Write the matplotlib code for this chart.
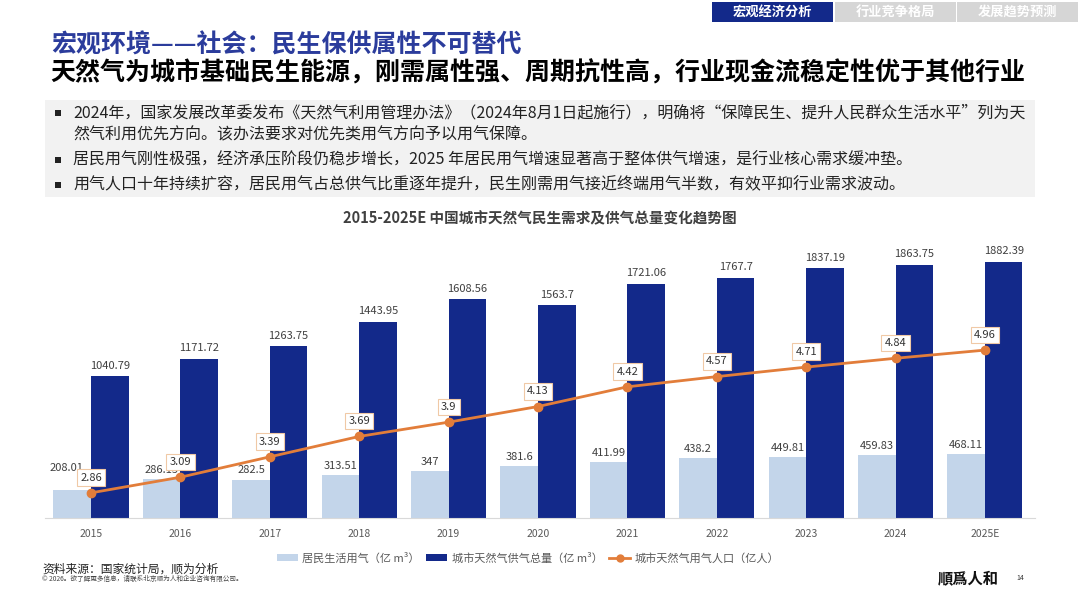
import matplotlib
matplotlib.use("Agg")
import matplotlib.pyplot as plt
from matplotlib.patches import Rectangle
from matplotlib.lines import Line2D
import numpy as np

plt.rcParams["font.family"] = ["Noto Sans CJK SC", "DejaVu Sans"]

# data
years = ["2015", "2016", "2017", "2018", "2019", "2020", "2021", "2022", "2023", "2024", "2025E"]
residential_gas = [208.01, 286.15, 282.5, 313.51, 347, 381.6, 411.99, 438.2, 449.81, 459.83, 468.11]
total_supply = [1040.79, 1171.72, 1263.75, 1443.95, 1608.56, 1563.7, 1721.06, 1767.7, 1837.19, 1863.75, 1882.39]
gas_population = [2.86, 3.09, 3.39, 3.69, 3.9, 4.13, 4.42, 4.57, 4.71, 4.84, 4.96]

tabs = ["宏观经济分析", "行业竞争格局", "发展趋势预测"]
title_1 = "宏观环境——社会：民生保供属性不可替代"
title_2 = "天然气为城市基础民生能源，刚需属性强、周期抗性高，行业现金流稳定性优于其他行业"
bullets = [
    "2024年，国家发展改革委发布《天然气利用管理办法》（2024年8月1日起施行），明确将“保障民生、提升人民群众生活水平”列为天\n然气利用优先方向。该办法要求对优先类用气方向予以用气保障。",
    "居民用气刚性极强，经济承压阶段仍稳步增长，2025 年居民用气增速显著高于整体供气增速，是行业核心需求缓冲垫。",
    "用气人口十年持续扩容，居民用气占总供气比重逐年提升，民生刚需用气接近终端用气半数，有效平抑行业需求波动。",
]
chart_title = "2015-2025E 中国城市天然气民生需求及供气总量变化趋势图"
legend_labels = ["居民生活用气（亿 m³）", "城市天然气供气总量（亿 m³）", "城市天然气用气人口（亿人）"]

NAVY = "#13298A"
LIGHT = "#C3D5EA"
ORANGE = "#E27D3A"
W, H = 1080, 608


def fx(px):
    return px / W


def fy(py):
    return 1 - py / H


fig = plt.figure(figsize=(10.8, 6.08), dpi=100)

# header tabs
tab_x = [712, 835, 957]
tab_colors = [NAVY, "#D6D6D6", "#D6D6D6"]
for x0, label, c in zip(tab_x, tabs, tab_colors):
    fig.patches.append(Rectangle((fx(x0), fy(22)), fx(121), 20 / H, transform=fig.transFigure,
                                 facecolor=c, edgecolor="none"))
    fig.text(fx(x0 + 60.5), fy(12), label, color="white", fontsize=9.5, ha="center", va="center",
             fontweight="bold")

fig.text(fx(51), fy(45), title_1, color="#2B3C9C", fontsize=18, fontweight="bold", va="center")
fig.text(fx(50), fy(73), title_2, color="black", fontsize=18, fontweight="bold", va="center")

# bullet box
fig.patches.append(Rectangle((fx(45), fy(197)), fx(990), 97 / H, transform=fig.transFigure,
                             facecolor="#F2F2F2", edgecolor="none"))
bullet_y = [113, 160, 185]
for i, (y, txt) in enumerate(zip(bullet_y, bullets)):
    fig.patches.append(Rectangle((fx(55), fy(y + 3)), fx(6), 6 / H, transform=fig.transFigure,
                                 facecolor="#222222", edgecolor="none"))
    if i == 0:
        # two-line bullet: top aligned so its first line sits at y
        fig.text(fx(73), fy(y - 9), txt, fontsize=11.5, color="#222222", va="top", linespacing=1.4)
    else:
        fig.text(fx(73), fy(y), txt, fontsize=11.5, color="#222222", va="center")

fig.text(fx(540), fy(218), chart_title, fontsize=10.5, fontweight="bold", color="#404040",
         ha="center", va="center")

# chart
ax = fig.add_axes([fx(45), 1 - 518 / H, fx(990), (518 - 240) / H])
x = np.arange(len(years))
bw = 0.42
b1 = ax.bar(x - bw / 2, residential_gas, bw, color=LIGHT, zorder=2)
b2 = ax.bar(x + bw / 2, total_supply, bw, color=NAVY, zorder=2)
lab1 = ax.bar_label(b1, labels=[f"{v:g}" for v in residential_gas], padding=3, fontsize=8,
                    color="#404040")
ax.bar_label(b2, labels=[f"{v:g}" for v in total_supply], padding=4, fontsize=8, color="#404040")
# first label sits higher in the reference, clear of the line label box
lab1[0].xyann = (-4, 12)
ax.set_ylim(0, 2044)
ax.set_xlim(-0.515, 10.56)
ax.set_xticks(x)
ax.set_xticklabels(years, fontsize=7.5, color="#595959")
ax.tick_params(axis="x", length=0, pad=8)
ax.set_yticks([])
for s in ["top", "right", "left"]:
    ax.spines[s].set_visible(False)
ax.spines["bottom"].set_color("#D9D9D9")

ax2 = ax.twinx()
ax2.plot(x, gas_population, color=ORANGE, lw=2, marker="o", ms=6, zorder=4)
ax2.set_ylim(2.49, 6.58)
ax2.set_yticks([])
for s in ax2.spines.values():
    s.set_visible(False)
for xi, v in zip(x, gas_population):
    ax2.annotate(f"{v:g}", (xi, v), xytext=(0, 11), textcoords="offset points", ha="center",
                 va="center", fontsize=8, color="#333333", zorder=6,
                 bbox=dict(boxstyle="square,pad=0.3", fc="white", ec="#F0C9A6", lw=0.8))

handles = [
    Rectangle((0, 0), 1, 1, facecolor=LIGHT, edgecolor="none"),
    Rectangle((0, 0), 1, 1, facecolor=NAVY, edgecolor="none"),
    Line2D([0], [0], color=ORANGE, lw=2, marker="o", ms=5),
]
fig.legend(handles, legend_labels, loc="center", bbox_to_anchor=(fx(528), fy(558)), ncol=3,
           frameon=False, fontsize=8, handlelength=1.9, handleheight=0.6, handletextpad=0.4,
           columnspacing=0.6, labelcolor="#595959")

# footer
fig.text(fx(42), fy(569), "资料来源：国家统计局，顺为分析", fontsize=8.5, color="#222222", va="center")
fig.text(fx(42), fy(579), "© 2026。欲了解更多信息，请联系北京顺为人和企业咨询有限公司。", fontsize=4.8,
         color="#444444", va="center")
fig.text(fx(968), fy(579), "順爲人和", fontsize=11, fontweight="heavy", color="#111111",
         ha="center", va="center", family=["Noto Sans CJK TC", "DejaVu Sans"])
fig.text(fx(1020), fy(578), "14", fontsize=5, color="#333333", ha="center", va="center")

fig.savefig("out.png", dpi=100)
